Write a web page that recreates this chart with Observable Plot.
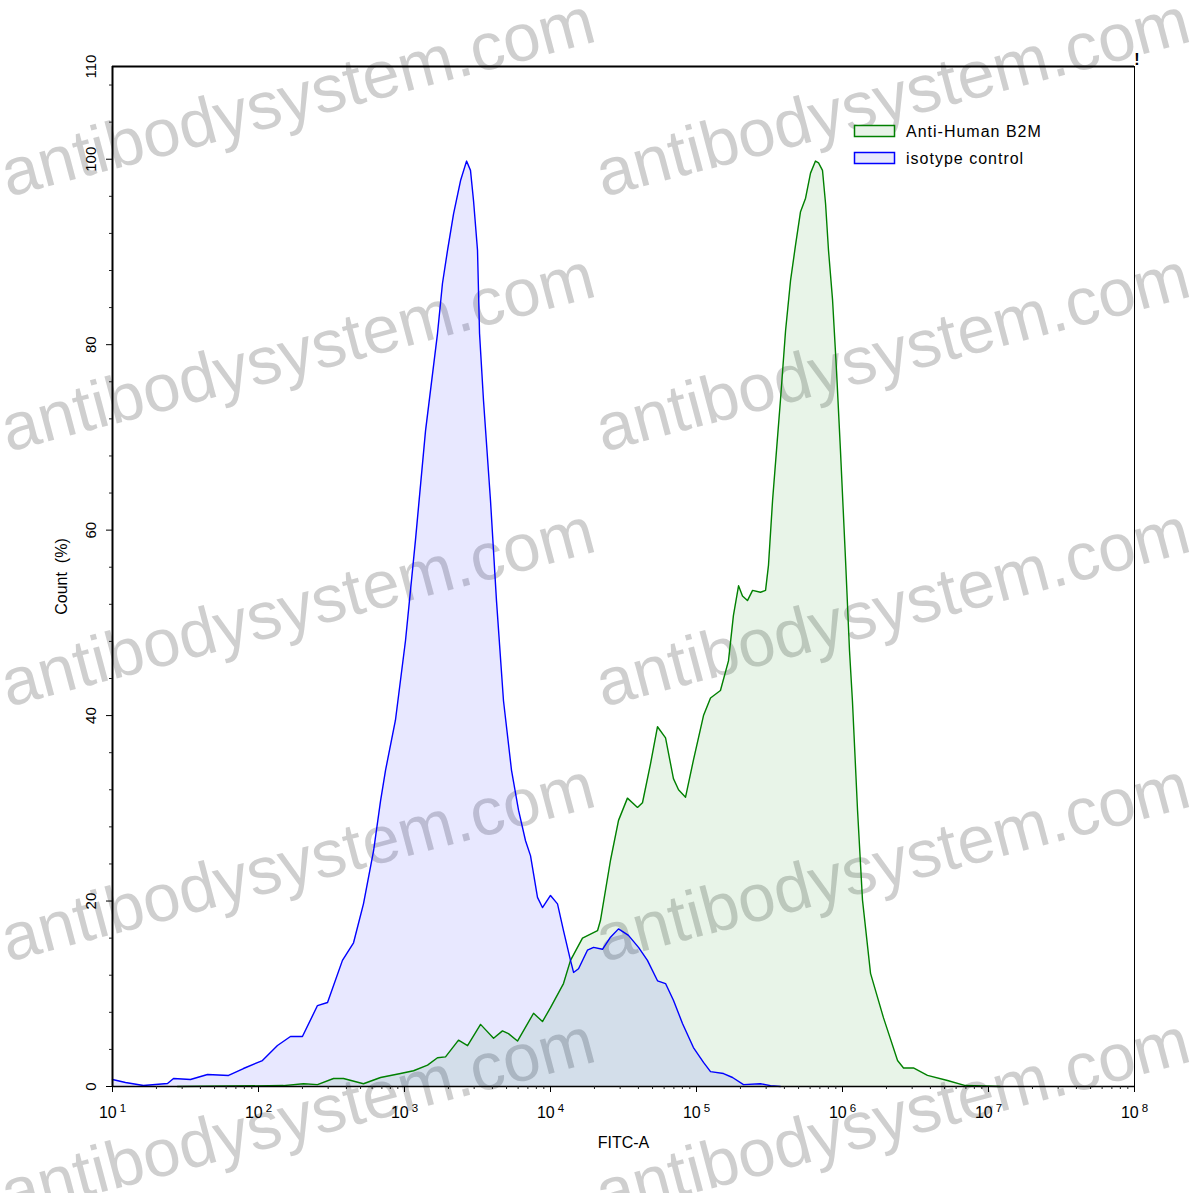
<!DOCTYPE html>
<html>
<head>
<meta charset="utf-8">
<script src="https://cdn.jsdelivr.net/npm/d3@7"></script>
<script src="https://cdn.jsdelivr.net/npm/@observablehq/plot@0.6"></script>
<style>
  body { margin: 0; background: #fff; font-family: "Liberation Sans", Arial, sans-serif; }
  #wrap { position: relative; width: 1197px; height: 1193px; overflow: hidden; background: #fff; }
  #wm, #legend { position: absolute; left: 0; top: 0; }
  #wm { z-index: 0; }
  #chart { position: absolute; left: 0; top: 0; z-index: 1; }
  #legend { z-index: 2; }
</style>
</head>
<body>
<div id="wrap">
  <svg id="wm" width="1197" height="1193"></svg>
  <div id="chart"></div>
  <svg id="legend" width="1197" height="1193"></svg>
</div>
<script>
// ---- data (log10 of FITC-A and Count %) ----
const isotypeExp = [1.000,1.089,1.212,1.377,1.418,1.534,1.651,1.795,1.897,2.027,
  2.130,2.219,2.301,2.404,2.473,2.575,2.651,2.719,2.788,2.836,
  2.870,2.938,3.007,3.075,3.144,3.226,3.260,3.295,3.336,3.384,
  3.425,3.452,3.473,3.500,3.514,3.541,3.589,3.630,3.678,3.733,
  3.781,3.829,3.863,3.911,3.945,4.000,4.048,4.089,4.137,4.158,
  4.192,4.253,4.295,4.356,4.411,4.466,4.534,4.603,4.664,4.733,
  4.788,4.842,4.904,4.979,5.048,5.096,5.185,5.247,5.322,5.438,
  5.507,5.575];
const isotypeCount = [0.75,0.43,0.11,0.32,0.86,0.75,1.29,1.19,1.94,2.8,
  4.42,5.39,5.39,8.73,9.06,13.6,15.5,19.7,25.4,30.8,
  34.1,39.5,48.1,58.9,70.7,81.2,86.6,90.2,94.1,97.7,
  99.8,98.8,95.5,90.2,81.2,74.0,63.2,52.4,41.6,34.1,
  29.8,26.5,24.9,20.4,19.3,20.6,19.7,16.8,13.6,12.3,
  12.7,14.7,15.0,14.8,16.1,17.0,16.3,15.0,13.6,11.4,
  11.1,9.3,6.8,4.2,2.6,1.6,1.4,0.97,0.2,0.3,
  0.1,0];

const antiExp = [1.445,2.171,2.308,2.404,2.514,2.582,2.719,2.836,2.973,3.062,
  3.158,3.226,3.281,3.370,3.432,3.521,3.610,3.671,3.712,3.774,
  3.884,3.945,4.000,4.089,4.137,4.219,4.322,4.342,4.411,4.466,
  4.527,4.596,4.630,4.685,4.733,4.788,4.842,4.877,4.925,4.979,
  5.048,5.096,5.164,5.219,5.253,5.288,5.315,5.349,5.384,5.438,
  5.473,5.493,5.521,5.548,5.575,5.610,5.644,5.678,5.712,5.747,
  5.781,5.815,5.836,5.863,5.884,5.904,5.932,5.959,5.986,6.021,
  6.048,6.068,6.103,6.137,6.192,6.281,6.377,6.418,6.486,6.582,
  6.719,6.842,7.080];
const antiCount = [0,0.1,0.3,0.2,0.86,0.86,0.3,0.97,1.4,1.7,
  2.3,3.1,3.2,5.0,4.4,6.7,5.2,6.0,5.7,4.9,
  7.9,7.0,8.5,11.1,13.6,16.0,16.8,17.9,24.4,28.7,
  31.1,30.1,30.6,34.8,38.8,37.6,33.2,32.0,31.2,35.2,
  40.0,41.9,42.7,45.9,50.8,54.0,52.9,52.4,53.5,53.3,
  53.5,56.2,63.2,68.6,74.0,81.5,86.9,90.7,94.3,95.8,
  98.5,99.8,99.6,98.8,95.2,90.2,84.8,77.2,68.6,56.7,
  47.0,41.6,29.8,20.1,12.2,7.4,2.8,2.0,2.0,1.2,
  0.65,0.1,0];

const seriesNames = ["Anti-Human B2M", "isotype control"];
const seriesColors = ["#008000", "#0000ff"];
const xDecades = [1, 2, 3, 4, 5, 6, 7, 8];
const yMajor = [0, 20, 40, 60, 80, 100];
const yLabels = [0, 20, 40, 60, 80, 100, 110];
const yMinorStep = 4;
const xTitle = "FITC-A";
const yTitle = "Count\u00a0\u00a0(%)";
const watermark = "antibodysystem.com";

// ---- tables ----
const isotype = isotypeExp.map((e, i) => ({x: 10 ** e, y: isotypeCount[i]}));
const anti = antiExp.map((e, i) => ({x: 10 ** e, y: antiCount[i]}));
const xMajor = xDecades.map(d => 10 ** d);
const xMinor = [];
for (const d of xDecades.slice(0, -1)) for (let k = 2; k <= 9; k++) xMinor.push(k * 10 ** d);
const yMinor = d3.range(0, 110, yMinorStep).filter(v => !yMajor.includes(v));

const font = "Liberation Sans, Arial, sans-serif";

const chart = Plot.plot({
  width: 1197,
  height: 1193,
  marginLeft: 112,
  marginRight: 63,
  marginTop: 66,
  marginBottom: 107,
  style: {background: "transparent", fontFamily: font, fontSize: "15px", color: "black", overflow: "visible"},
  x: {type: "log", domain: [10, 1e8]},
  y: {domain: [0, 110]},
  marks: [
    Plot.areaY(anti, {x: "x", y: "y", fill: seriesColors[0], fillOpacity: 0.09}),
    Plot.areaY(isotype, {x: "x", y: "y", fill: seriesColors[1], fillOpacity: 0.09}),
    Plot.lineY(anti, {x: "x", y: "y", stroke: seriesColors[0], strokeWidth: 1.4}),
    Plot.lineY(isotype, {x: "x", y: "y", stroke: seriesColors[1], strokeWidth: 1.4}),
    Plot.frame({stroke: "black", strokeWidth: 1}),
    Plot.ruleX([10], {stroke: "black", strokeWidth: 2}),
    Plot.ruleY([110], {stroke: "black", strokeWidth: 2}),
    Plot.ruleY([0], {stroke: "black", strokeWidth: 1.5}),
    Plot.axisX({ticks: xMinor, tickSize: 3, tickFormat: () => "", label: null, stroke: "#222"}),
    Plot.axisX({ticks: xMajor, tickSize: 6, tickPadding: 14, fontSize: 16,
      tickFormat: d => "10^" + Math.round(Math.log10(d)), label: null}),
    Plot.axisY({ticks: yMinor, tickSize: 3, tickFormat: () => "", label: null, stroke: "#222"}),
    Plot.axisY({ticks: yMajor, tickSize: 6, tickFormat: () => "", label: null}),
    Plot.text(yLabels, {y: d => d, text: d => String(d), frameAnchor: "left", dx: -21,
      rotate: -90, textAnchor: "middle", lineAnchor: "middle", fontSize: 15}),
    Plot.text([xTitle], {frameAnchor: "bottom", dy: 56, textAnchor: "middle", lineAnchor: "middle", fontSize: 16, ariaLabel: "axis-title"}),
    Plot.text([yTitle], {frameAnchor: "left", dx: -51, rotate: -90, textAnchor: "middle", lineAnchor: "middle", fontSize: 16, ariaLabel: "axis-title"}),
    Plot.text(["!"], {frameAnchor: "top-right", dx: 5, dy: -13, fontSize: 16, fontWeight: "bold"})
  ]
});
document.getElementById("chart").appendChild(chart);

// superscript exponents in x tick labels
const NS = "http://www.w3.org/2000/svg";
chart.querySelectorAll("text").forEach(t => {
  const m = /^10\^(\d+)$/.exec(t.textContent);
  if (!m) return;
  t.textContent = "10";
  t.setAttribute("font-size", "16");
  t.style.fontSize = "16px";
  const ts = document.createElementNS(NS, "tspan");
  ts.setAttribute("dx", "3");
  ts.setAttribute("dy", "-6");
  ts.setAttribute("font-size", "11.5");
  ts.style.fontSize = "11.5px";
  ts.textContent = m[1];
  t.appendChild(ts);
});
chart.querySelectorAll('g[aria-label="axis-title"] text').forEach(t => t.setAttribute("letter-spacing", "1"));

// watermark layer (behind the chart)
const wm = d3.select("#wm");
const rows = [197, 452, 707, 962, 1217];
const cols = [8, 603];
for (const ry of rows) for (const cx of cols) {
  wm.append("text")
    .attr("x", cx).attr("y", ry)
    .attr("transform", `rotate(-14.8, ${cx}, ${ry})`)
    .attr("font-family", font)
    .attr("font-size", 67)
    .attr("fill", "#7a7a7a")
    .attr("fill-opacity", 0.36)
    .text(watermark);
}

// legend (inside the plot, top right)
const lg = d3.select("#legend");
const fills = ["#e8f3e8", "#e8e8fd"];
seriesNames.forEach((name, i) => {
  const top = 125 + i * 27;
  lg.append("rect").attr("x", 854.5).attr("y", top + 0.5).attr("width", 40).attr("height", 11)
    .attr("fill", fills[i]).attr("stroke", seriesColors[i]).attr("stroke-width", 1.5);
  lg.append("text").attr("x", 906).attr("y", top + 12)
    .attr("font-family", font).attr("font-size", 16).attr("letter-spacing", 1)
    .attr("fill", "black").text(name);
});
</script>
</body>
</html>
